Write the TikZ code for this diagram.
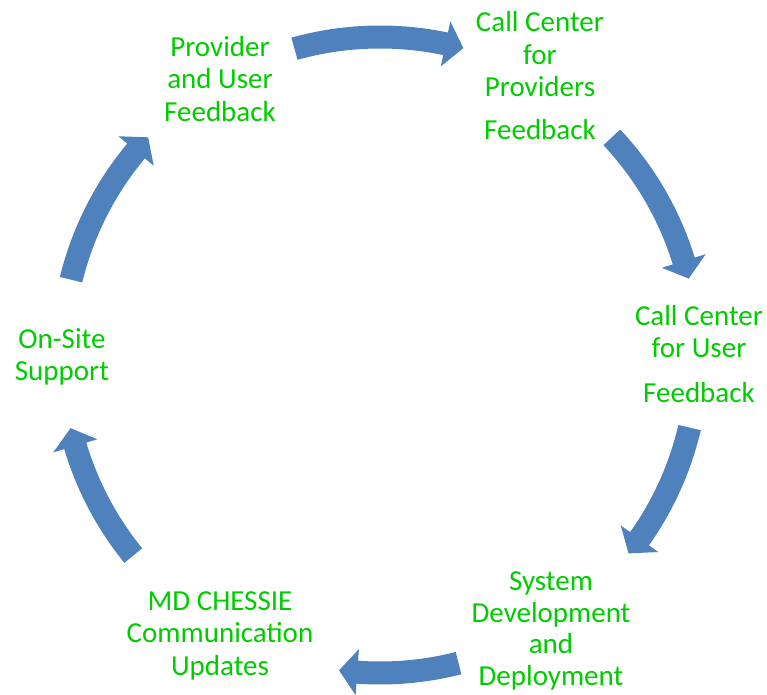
\documentclass[tikz,border=0pt]{standalone}
\usepackage{fontspec}
\setmainfont{Carlito}
\definecolor{lblgreen}{RGB}{0,204,0}
\definecolor{arrowblue}{RGB}{79,129,189}
\begin{document}
\begin{tikzpicture}[x=1pt,y=1pt,
  lbl/.style={text=lblgreen, font=\fontsize{29}{32.5}\selectfont, align=center, inner sep=0pt, anchor=north},
  cyclearrow/.style={fill=arrowblue, draw=none}]
\useasboundingbox (0,0) rectangle (767,694);
\coordinate (c) at (380,339);
\node[lbl] (provider) at (220,658) {Provider\\and User\\Feedback};
\node[lbl] (callprov) at (540,682.5) {Call Center\\for\\Providers\\[10.5pt]Feedback};
\node[lbl] (calluser) at (699,389) {Call Center\\for User\\[12.5pt]Feedback};
\node[lbl, font=\fontsize{29}{31.5}\selectfont] (system) at (551,122.5) {System\\Development\\and\\Deployment};
\node[lbl] (mdchessie) at (220,103) {MD CHESSIE\\Communication\\Updates};
\node[lbl] (onsite) at (62,366) {On-Site\\Support};
\foreach \ta/\pa in {105.6/74.8, 43.2/13.9, -13.2/-38.6, -75.7/-97.4, -140.9/-166.7, 166.3/136.8} {
  \pgfmathsetmacro\ba{\pa+3.3}
  \fill[cyclearrow, shift={(c)}] (\ta:329.5) arc[start angle=\ta, end angle=\ba, radius=329.5]
    -- (\ba:341) -- (\pa:318) -- (\ba:295) -- (\ba:306.5)
    arc[start angle=\ba, end angle=\ta, radius=306.5] -- cycle;
}
\end{tikzpicture}
\end{document}
